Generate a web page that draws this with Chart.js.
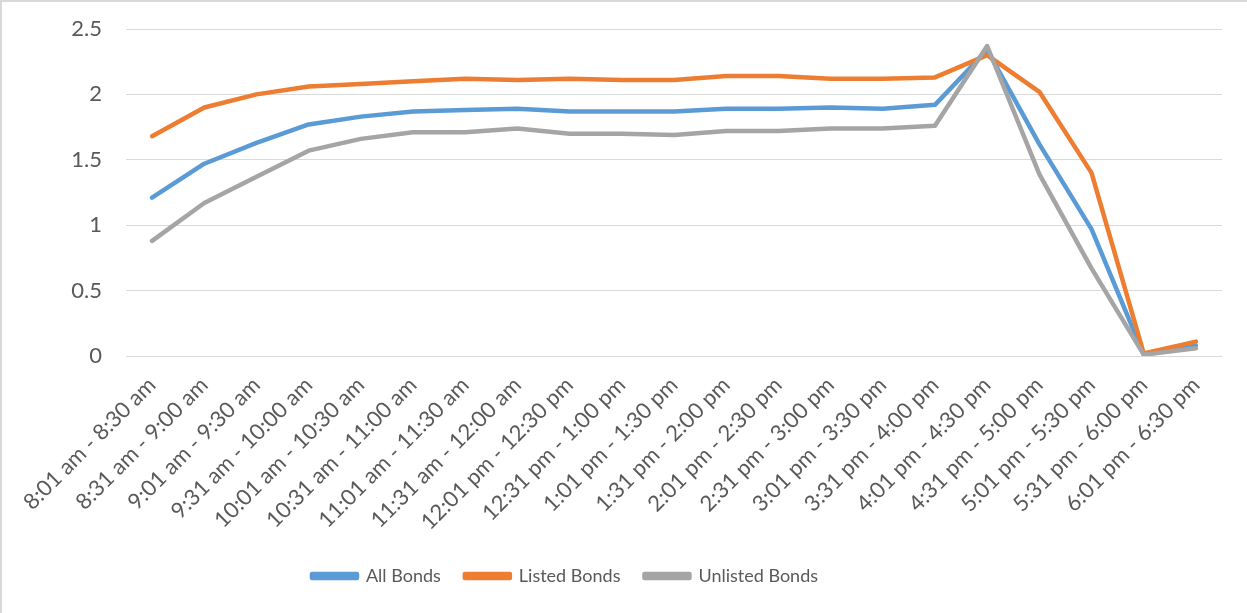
<!DOCTYPE html>
<html>
<head>
<meta charset="utf-8">
<script src="https://cdn.jsdelivr.net/npm/chart.js@4/dist/chart.umd.min.js"></script>
<style>
  html, body { margin: 0; padding: 0; background: #fff; }
  #wrap { position: relative; width: 1247px; height: 613px; box-sizing: border-box;
          border-left: 2px solid #d9d9d9; border-top: 2px solid #d9d9d9; }
</style>
</head>
<body>
<div id="wrap"><canvas id="myChart" width="1245" height="611"></canvas></div>
<script>
const timeSlots = [
  "8:01 am - 8:30 am", "8:31 am - 9:00 am", "9:01 am - 9:30 am", "9:31 am - 10:00 am",
  "10:01 am - 10:30 am", "10:31 am - 11:00 am", "11:01 am - 11:30 am", "11:31 am - 12:00 am",
  "12:01 pm - 12:30 pm", "12:31 pm - 1:00 pm", "1:01 pm - 1:30 pm", "1:31 pm - 2:00 pm",
  "2:01 pm - 2:30 pm", "2:31 pm - 3:00 pm", "3:01 pm - 3:30 pm", "3:31 pm - 4:00 pm",
  "4:01 pm - 4:30 pm", "4:31 pm - 5:00 pm", "5:01 pm - 5:30 pm", "5:31 pm - 6:00 pm",
  "6:01 pm - 6:30 pm"
]
const allBonds = [1.21, 1.47, 1.63, 1.77, 1.83, 1.87, 1.88, 1.89, 1.87, 1.87, 1.87,
  1.89, 1.89, 1.90, 1.89, 1.92, 2.34, 1.62, 0.97, 0.01, 0.08]
const listedBonds = [1.68, 1.90, 2.00, 2.06, 2.08, 2.10, 2.12, 2.11, 2.12, 2.11, 2.11,
  2.14, 2.14, 2.12, 2.12, 2.13, 2.30, 2.02, 1.40, 0.02, 0.11]
const unlistedBonds = [0.88, 1.17, 1.37, 1.57, 1.66, 1.71, 1.71, 1.74, 1.70, 1.70, 1.69,
  1.72, 1.72, 1.74, 1.74, 1.76, 2.37, 1.39, 0.67, 0.01, 0.06]
const yTicks = [0, 0.5, 1, 1.5, 2, 2.5]

const txt = '#595959'
const font = 'Lato'

function line(label, data, color, order) {
  return {
    label: label, data: data, order: order,
    borderColor: color, backgroundColor: color,
    borderWidth: 4.5, tension: 0, pointRadius: 0,
    borderCapStyle: 'round', borderJoinStyle: 'round'
  }
}

// nudge legend a bit left like the original
const legendShift = {
  id: 'legendShift',
  afterLayout(chart) {
    chart.legend.left -= 47
    chart.legend.right -= 47
  }
}

new Chart(document.getElementById('myChart'), {
  type: 'line',
  data: {
    labels: timeSlots,
    datasets: [
      line('All Bonds', allBonds, '#5B9BD5', 3),
      line('Listed Bonds', listedBonds, '#ED7D31', 2),
      line('Unlisted Bonds', unlistedBonds, '#A5A5A5', 1)
    ]
  },
  plugins: [legendShift],
  options: {
    responsive: false,
    animation: false,
    layout: { padding: { top: 27, right: 25, bottom: 18, left: 0 } },
    plugins: {
      tooltip: { enabled: false },
      legend: {
        position: 'bottom',
        labels: {
          sort: (a, b) => a.datasetIndex - b.datasetIndex,
          boxWidth: 45, boxHeight: 4, padding: 24,
          color: txt, font: { family: font, size: 18 }
        }
      }
    },
    scales: {
      x: {
        offset: true,
        grid: { display: false, drawTicks: false },
        border: { display: false },
        ticks: {
          autoSkip: false, maxRotation: 45, minRotation: 45, padding: 16,
          color: txt, font: { family: font, size: 22 }
        },
        afterFit(scale) { scale.height = 187 }
      },
      y: {
        min: 0, max: 2.5,
        afterBuildTicks(scale) { scale.ticks = yTicks.map(v => ({ value: v })) },
        grid: { color: '#d9d9d9', lineWidth: 1, drawTicks: false },
        border: { display: false },
        ticks: {
          padding: 24, color: txt, font: { family: font, size: 22 },
          callback: v => String(v)
        },
        afterFit(scale) {
          scale.width = 124
          scale.paddingTop = 0
          scale.paddingBottom = 0
        }
      }
    }
  }
})
</script>
</body>
</html>
